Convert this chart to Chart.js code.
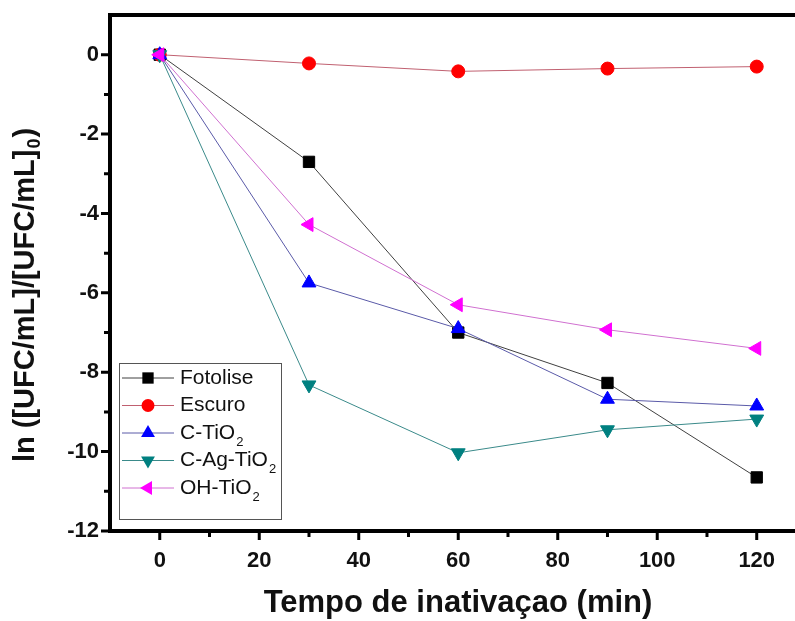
<!DOCTYPE html>
<html>
<head>
<meta charset="utf-8">
<script src="https://cdn.jsdelivr.net/npm/chart.js@4.4.1/dist/chart.umd.min.js"></script>
<style>
    body { margin: 0; background: #ffffff; overflow: hidden; }
    #wrap { width: 812px; height: 621px; }
</style>
</head>
<body>
<div id="wrap"><canvas id="inactChart"></canvas></div>
<script>
    // dados
    const times = [0, 30, 60, 90, 120];
    const fotolise = [0, -2.7, -7.0, -8.27, -10.65];
    const escuro = [0, -0.22, -0.42, -0.35, -0.3];
    const cTiO2 = [0, -5.75, -6.9, -8.68, -8.85];
    const cAgTiO2 = [0, -8.32, -10.03, -9.45, -9.18];
    const ohTiO2 = [0, -4.28, -6.3, -6.93, -7.4];
    const seriesNames = ['Fotolise', 'Escuro', 'C-TiO2', 'C-Ag-TiO2', 'OH-TiO2'];
    const xTicks = [0, 20, 40, 60, 80, 100, 120];
    const yTicks = [0, -2, -4, -6, -8, -10, -12];
    const xMinor = [10, 30, 50, 70, 90, 110];
    const yMinor = [-1, -3, -5, -7, -9, -11];

    const styles = [
        { line: '#404040', fill: '#000000', shape: 'rect', r: 8, rot: 0 },
        { line: '#c06070', fill: '#ff0000', shape: 'circle', r: 6.5, rot: 0 },
        { line: '#5a5aa8', fill: '#0000ff', shape: 'triangle', r: 8, rot: 0 },
        { line: '#3a8a8a', fill: '#008080', shape: 'triangle', r: 8, rot: 180 },
        { line: '#d070d0', fill: '#ff00ff', shape: 'triangle', r: 8, rot: 270 }
    ];
    const allValues = [fotolise, escuro, cTiO2, cAgTiO2, ohTiO2];

    const datasets = allValues.map((vals, i) => ({
        label: seriesNames[i],
        data: times.map((t, k) => ({ x: t, y: vals[k] })),
        borderColor: styles[i].line,
        borderWidth: 1,
        backgroundColor: styles[i].fill,
        pointStyle: styles[i].shape,
        pointRadius: styles[i].r,
        pointRotation: styles[i].rot,
        pointBackgroundColor: styles[i].fill,
        pointBorderColor: styles[i].fill,
        pointBorderWidth: 1,
        tension: 0,
        order: 5 - i
    }));

    // desenha um marcador (legenda)
    function marker(ctx, st, x, y) {
        ctx.save();
        ctx.fillStyle = st.fill;
        ctx.beginPath();
        if (st.shape === 'rect') {
            const s = st.r * Math.SQRT1_2;
            ctx.rect(x - s, y - s, 2 * s, 2 * s);
        } else if (st.shape === 'circle') {
            ctx.arc(x, y, st.r, 0, Math.PI * 2);
        } else {
            let a = st.rot * Math.PI / 180;
            for (let k = 0; k < 3; k++) {
                const px = x + Math.sin(a) * st.r, py = y - Math.cos(a) * st.r;
                k ? ctx.lineTo(px, py) : ctx.moveTo(px, py);
                a += Math.PI * 2 / 3;
            }
            ctx.closePath();
        }
        ctx.fill();
        ctx.restore();
    }

    // texto com subscrito no fim ("TiO2" -> TiO + 2)
    function subText(ctx, main, sub, x, y, size, bold, dy) {
        const w = bold ? 'bold ' : '';
        ctx.font = w + size + 'px "Liberation Sans", Arial, sans-serif';
        ctx.fillText(main, x, y);
        const mw = ctx.measureText(main).width;
        ctx.font = w + Math.round(size * 0.62) + 'px "Liberation Sans", Arial, sans-serif';
        ctx.fillText(sub, x + mw + 1, y + dy);
        return mw + 1 + ctx.measureText(sub).width;
    }

    const framePlugin = {
        id: 'originFrame',
        afterDraw(chart) {
            const { ctx, chartArea: a, scales } = chart;
            const xs = scales.x, ys = scales.y;
            ctx.save();
            ctx.strokeStyle = '#000';
            ctx.lineWidth = 4;
            ctx.beginPath();
            ctx.moveTo(a.left, a.top); ctx.lineTo(a.right, a.top);
            ctx.moveTo(a.left, a.bottom); ctx.lineTo(a.right, a.bottom);
            ctx.moveTo(a.left, a.top - 2); ctx.lineTo(a.left, a.bottom + 2);
            ctx.moveTo(a.right, a.top - 2); ctx.lineTo(a.right, a.bottom + 2);
            ctx.stroke();

            // marcas dos eixos
            ctx.lineWidth = 3;
            ctx.beginPath();
            xTicks.forEach(v => { const p = xs.getPixelForValue(v); ctx.moveTo(p, a.bottom); ctx.lineTo(p, a.bottom + 9); });
            xMinor.forEach(v => { const p = xs.getPixelForValue(v); ctx.moveTo(p, a.bottom); ctx.lineTo(p, a.bottom + 6); });
            yTicks.forEach(v => { const p = ys.getPixelForValue(v); ctx.moveTo(a.left, p); ctx.lineTo(a.left - 9, p); });
            yMinor.forEach(v => { const p = ys.getPixelForValue(v); ctx.moveTo(a.left, p); ctx.lineTo(a.left - 6, p); });
            ctx.stroke();

            // legenda
            const box = { l: 119, t: 363, r: 281, b: 519 };
            ctx.fillStyle = '#fff';
            ctx.fillRect(box.l, box.t, box.r - box.l, box.b - box.t);
            ctx.strokeStyle = '#555';
            ctx.lineWidth = 1;
            ctx.strokeRect(box.l + 0.5, box.t + 0.5, box.r - box.l, box.b - box.t);
            seriesNames.forEach((name, i) => {
                const y = 378 + i * 27.5;
                ctx.strokeStyle = styles[i].line;
                ctx.lineWidth = 1;
                ctx.beginPath(); ctx.moveTo(122, y); ctx.lineTo(174, y); ctx.stroke();
                marker(ctx, styles[i], 148, y);
                ctx.fillStyle = '#111';
                ctx.textBaseline = 'middle';
                ctx.textAlign = 'left';
                if (/O2$/.test(name)) {
                    subText(ctx, name.slice(0, -1), '2', 180, y, 21, false, 9);
                } else {
                    ctx.font = '21px "Liberation Sans", Arial, sans-serif';
                    ctx.fillText(name, 180, y);
                }
            });

            // títulos dos eixos
            ctx.fillStyle = '#111';
            ctx.textAlign = 'center';
            ctx.textBaseline = 'middle';
            ctx.font = 'bold 31px "Liberation Sans", Arial, sans-serif';
            ctx.fillText('Tempo de inativaçao (min)', 458, 603);

            ctx.translate(26, 295);
            ctx.rotate(-Math.PI / 2);
            ctx.textAlign = 'left';
            ctx.font = 'bold 29px "Liberation Sans", Arial, sans-serif';
            const m1 = 'ln ([UFC/mL]/[UFC/mL]';
            const w1 = ctx.measureText(m1).width;
            ctx.font = 'bold 18px "Liberation Sans", Arial, sans-serif';
            const w2 = ctx.measureText('0').width;
            ctx.font = 'bold 29px "Liberation Sans", Arial, sans-serif';
            const w3 = ctx.measureText(')').width;
            const x0 = -(w1 + w2 + w3 + 2) / 2;
            ctx.fillText(m1, x0, 0);
            ctx.font = 'bold 18px "Liberation Sans", Arial, sans-serif';
            ctx.fillText('0', x0 + w1 + 1, 9);
            ctx.font = 'bold 29px "Liberation Sans", Arial, sans-serif';
            ctx.fillText(')', x0 + w1 + w2 + 2, 0);
            ctx.restore();
        }
    };

    const ctxInact = document.getElementById('inactChart').getContext('2d');
    const inactChart = new Chart(ctxInact, {
        type: 'line',
        data: { datasets: datasets },
        options: {
            responsive: true,
            maintainAspectRatio: false,
            animation: false,
            layout: { padding: { top: 15, right: 2, left: 0, bottom: 0 } },
            plugins: {
                legend: { display: false },
                tooltip: { enabled: false }
            },
            scales: {
                x: {
                    type: 'linear',
                    min: -10,
                    max: 129.3,
                    afterBuildTicks: s => { s.ticks = xTicks.map(v => ({ value: v })); },
                    afterFit: s => { s.height = 90; s.paddingLeft = 0; s.paddingRight = 0; },
                    grid: { display: false, drawTicks: false },
                    border: { display: false },
                    ticks: {
                        color: '#111',
                        padding: 17,
                        maxRotation: 0,
                        font: { family: '"Liberation Sans", Arial', size: 22, weight: 'bold' }
                    }
                },
                y: {
                    min: -12,
                    max: 1,
                    afterBuildTicks: s => { s.ticks = yTicks.map(v => ({ value: v })); },
                    afterFit: s => { s.width = 110; s.paddingTop = 0; s.paddingBottom = 0; },
                    grid: { display: false, drawTicks: false },
                    border: { display: false },
                    ticks: {
                        color: '#111',
                        padding: 11,
                        font: { family: '"Liberation Sans", Arial', size: 22, weight: 'bold' }
                    }
                }
            }
        },
        plugins: [framePlugin]
    });
</script>
</body>
</html>
